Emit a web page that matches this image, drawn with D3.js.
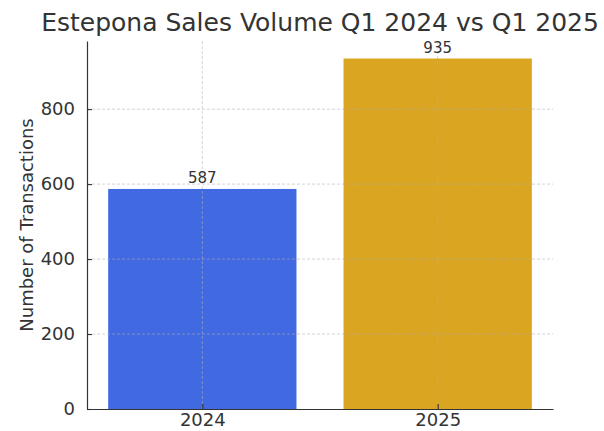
<!DOCTYPE html>
<html>
<head>
<meta charset="utf-8">
<script src="https://cdn.jsdelivr.net/npm/d3@7"></script>
<style>
  html, body { margin: 0; padding: 0; background: #fff; }
  svg { display: block; font-family: "DejaVu Sans", sans-serif; }
</style>
</head>
<body>
<svg id="chart" width="604" height="431"></svg>
<script>
// Estepona transaction counts, first quarter of each year
const years = ["2024", "2025"];
const transactions = [587, 935];
const barColors = ["#4169E1", "#DAA520"];
const yTicks = [0, 200, 400, 600, 800];
const titleText = "Estepona Sales Volume Q1 2024 vs Q1 2025";
const yLabelText = "Number of Transactions";

const svg = d3.select("#chart");
const margin = { left: 87, right: 51, top: 41, bottom: 22 };
const W = 604, H = 431;
const x0 = margin.left, x1 = W - margin.right;
const y0 = H - margin.bottom, y1 = margin.top;
const ink = "#333";

// Category positions on a linear scale, bars 0.8 wide
const x = d3.scaleLinear().domain([-0.49, years.length - 1 + 0.49]).range([x0, x1]);
const y = d3.scaleLinear().domain([0, d3.max(transactions) * 1.05]).range([y0, y1]);
const barW = x(0.4) - x(0);

// Bars
svg.append("g").selectAll("rect")
  .data(transactions)
  .join("rect")
  .attr("x", (d, i) => x(i - 0.4))
  .attr("y", d => y(d))
  .attr("width", barW * 2)
  .attr("height", d => y(0) - y(d))
  .attr("fill", (d, i) => barColors[i]);

// Dashed grid drawn above the bars
const grid = svg.append("g")
  .attr("stroke", "#b0b0b0")
  .attr("stroke-opacity", 0.7)
  .attr("stroke-dasharray", "3,2")
  .attr("stroke-width", 0.8);
grid.selectAll("line.h")
  .data(yTicks.filter(t => t > 0))
  .join("line")
  .attr("x1", x0).attr("x2", x1)
  .attr("y1", d => y(d)).attr("y2", d => y(d));
grid.selectAll("line.v")
  .data(years)
  .join("line")
  .attr("x1", (d, i) => x(i)).attr("x2", (d, i) => x(i))
  .attr("y1", y0).attr("y2", y1);

// Y axis
const yAxis = svg.append("g")
  .attr("transform", `translate(${x0},0)`)
  .call(d3.axisLeft(y).tickValues(yTicks).tickSizeInner(-5).tickSizeOuter(0).tickPadding(7));
yAxis.select(".domain").attr("stroke", ink).attr("stroke-width", 1.2);
yAxis.selectAll(".tick line").attr("stroke", ink).attr("stroke-width", 1.1);
yAxis.selectAll(".tick text")
  .attr("font-size", 18).attr("fill", ink)
  .attr("font-family", "DejaVu Sans, sans-serif")
  .attr("dx", "-5");

// X axis
const xAxis = svg.append("g")
  .attr("transform", `translate(0,${y0})`)
  .call(d3.axisBottom(x).tickValues(years.map((d, i) => i))
    .tickFormat(i => years[i]).tickSizeInner(-5).tickSizeOuter(0).tickPadding(4));
xAxis.select(".domain").attr("stroke", ink).attr("stroke-width", 1.2);
xAxis.selectAll(".tick line").attr("stroke", ink).attr("stroke-width", 1.1);
xAxis.selectAll(".tick text")
  .attr("font-size", 18).attr("fill", ink)
  .attr("font-family", "DejaVu Sans, sans-serif")
  .attr("dy", "0.71em");

// Value labels above the bars
svg.append("g").selectAll("text")
  .data(transactions)
  .join("text")
  .attr("x", (d, i) => x(i))
  .attr("y", d => y(d) - 6)
  .attr("text-anchor", "middle")
  .attr("font-size", 15)
  .attr("fill", ink)
  .text(d => d);

// Title
svg.append("text")
  .attr("x", (x0 + x1) / 2)
  .attr("y", 31)
  .attr("text-anchor", "middle")
  .attr("font-size", 25)
  .attr("fill", ink)
  .text(titleText);

// Y axis label
svg.append("text")
  .attr("transform", `translate(33,${(y0 + y1) / 2}) rotate(-90)`)
  .attr("text-anchor", "middle")
  .attr("font-size", 18)
  .attr("fill", ink)
  .text(yLabelText);
</script>
</body>
</html>
